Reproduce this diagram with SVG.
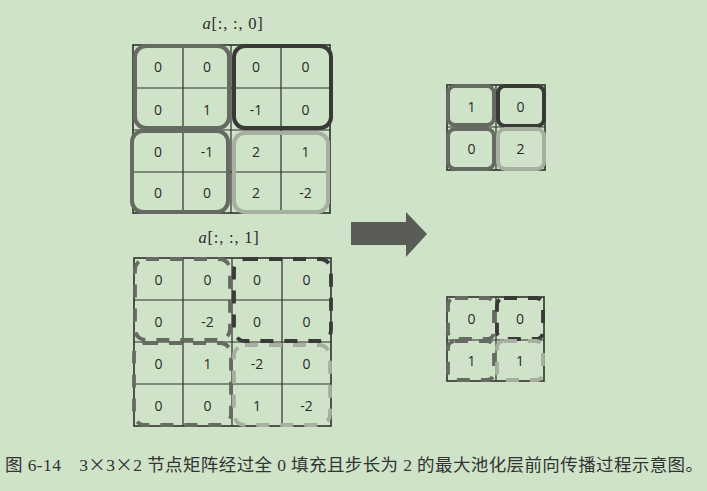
<svg xmlns="http://www.w3.org/2000/svg" width="707" height="491" viewBox="0 0 707 491">
<style>
.bg{fill:#cfe3c8}
.cell{fill:none;stroke:#2e302c;stroke-width:1.2}
.outer{fill:none;stroke:#2e302c;stroke-width:1.6}
.num{font-family:"Open Sans","Liberation Sans",sans-serif;font-size:14px;fill:#2a2a2a;text-anchor:middle;dominant-baseline:central}
.ttl{font-family:"Liberation Serif",serif;font-size:16.5px;fill:#2a2a2a;text-anchor:middle;letter-spacing:0.8px}
.bx{fill:none;stroke-width:4}
.mid{stroke:#676a63}
.dark{stroke:#393a37}
.light{stroke:#a7b0a0}
.dash{stroke-dasharray:13 11;stroke-width:3.8}
.cap{font-family:"Liberation Serif","Noto Sans CJK SC",serif;font-size:17.5px;fill:#333}
.cjk{font-family:"Noto Sans CJK SC",sans-serif}
</style>
<rect class="bg" x="0" y="0" width="707" height="491"/>

<g id="title-a0"><text class="ttl" x="233" y="29"><tspan font-style="italic">a</tspan>[:, :, 0]</text></g>
<g id="grid-a0">
<rect class="outer" x="133" y="45" width="197" height="168"/>
<path class="cell" d="M183 45V213M231 45V213M281 45V213M133 88H330M133 130H330M133 172H330"/>
<rect class="bx mid" x="135" y="46" width="94" height="82" rx="11"/>
<rect class="bx dark" x="234" y="46" width="97" height="82" rx="11"/>
<rect class="bx mid" x="132" y="131" width="96" height="81" rx="11"/>
<rect class="bx light" x="234" y="133" width="94" height="79" rx="11"/>
<text class="num" x="158" y="66.5">0</text><text class="num" x="207" y="66.5">0</text><text class="num" x="256" y="66.5">0</text><text class="num" x="305.5" y="66.5">0</text>
<text class="num" x="158" y="109">0</text><text class="num" x="207" y="109">1</text><text class="num" x="256" y="109">-1</text><text class="num" x="305.5" y="109">0</text>
<text class="num" x="158" y="151">0</text><text class="num" x="207" y="151">-1</text><text class="num" x="256" y="151">2</text><text class="num" x="305.5" y="151">1</text>
<text class="num" x="158" y="192.5">0</text><text class="num" x="207" y="192.5">0</text><text class="num" x="256" y="192.5">2</text><text class="num" x="305.5" y="192.5">-2</text>
</g>

<g id="title-a1"><text class="ttl" x="229" y="243"><tspan font-style="italic">a</tspan>[:, :, 1]</text></g>
<g id="grid-a1">
<rect class="outer" x="134" y="258" width="197" height="168"/>
<path class="cell" d="M183 258V426M232 258V426M282 258V426M134 300H331M134 342H331M134 384H331"/>
<rect class="bx mid dash" x="135" y="259" width="95" height="81" rx="11"/>
<rect class="bx dark dash" x="234" y="259" width="97" height="82" rx="11"/>
<rect class="bx mid dash" x="134" y="343" width="97" height="82" rx="11"/>
<rect class="bx light dash" x="234" y="345" width="96" height="80" rx="11"/>
<text class="num" x="158.5" y="279">0</text><text class="num" x="207.5" y="279">0</text><text class="num" x="257" y="279">0</text><text class="num" x="306.5" y="279">0</text>
<text class="num" x="158.5" y="321">0</text><text class="num" x="207.5" y="321">-2</text><text class="num" x="257" y="321">0</text><text class="num" x="306.5" y="321">0</text>
<text class="num" x="158.5" y="363">0</text><text class="num" x="207.5" y="363">1</text><text class="num" x="257" y="363">-2</text><text class="num" x="306.5" y="363">0</text>
<text class="num" x="158.5" y="405">0</text><text class="num" x="207.5" y="405">0</text><text class="num" x="257" y="405">1</text><text class="num" x="306.5" y="405">-2</text>
</g>

<g id="result-0">
<rect class="outer" x="447" y="85" width="98" height="85"/>
<path class="cell" d="M496 85V170M447 127H545"/>
<rect class="bx mid" x="448" y="86" width="46" height="39" rx="7"/>
<rect class="bx dark" x="498" y="86" width="46" height="40" rx="7"/>
<rect class="bx mid" x="448" y="129" width="46" height="40" rx="7"/>
<rect class="bx light" x="498" y="129" width="46" height="40" rx="7"/>
<text class="num" x="471.5" y="106">1</text><text class="num" x="520.5" y="106">0</text>
<text class="num" x="471.5" y="148.5">0</text><text class="num" x="520.5" y="148.5">2</text>
</g>

<g id="result-1">
<rect class="outer" x="447" y="297" width="97" height="84"/>
<path class="cell" d="M496 297V381M447 340H544"/>
<rect class="bx mid dash" x="448" y="298" width="46" height="41" rx="7"/>
<rect class="bx dark dash" x="497" y="298" width="46" height="41" rx="7"/>
<rect class="bx mid dash" x="448" y="341" width="46" height="39" rx="7"/>
<rect class="bx light dash" x="497" y="341" width="46" height="39" rx="7"/>
<text class="num" x="471.5" y="318.5">0</text><text class="num" x="520" y="318.5">0</text>
<text class="num" x="471.5" y="360.5">1</text><text class="num" x="520" y="360.5">1</text>
</g>

<g id="connectors">
<polygon points="351,222 406,222 406,212 427,234 406,257 406,245 351,245" fill="#5a5d57"/>
</g>

<g id="caption">
<text class="cap" x="5" y="471" textLength="698" lengthAdjust="spacing">图 6-14　3<tspan class="cjk">×</tspan>3<tspan class="cjk">×</tspan>2 节点矩阵经过全 0 填充且步长为 2 的最大池化层前向传播过程示意图。</text>
</g>
</svg>
